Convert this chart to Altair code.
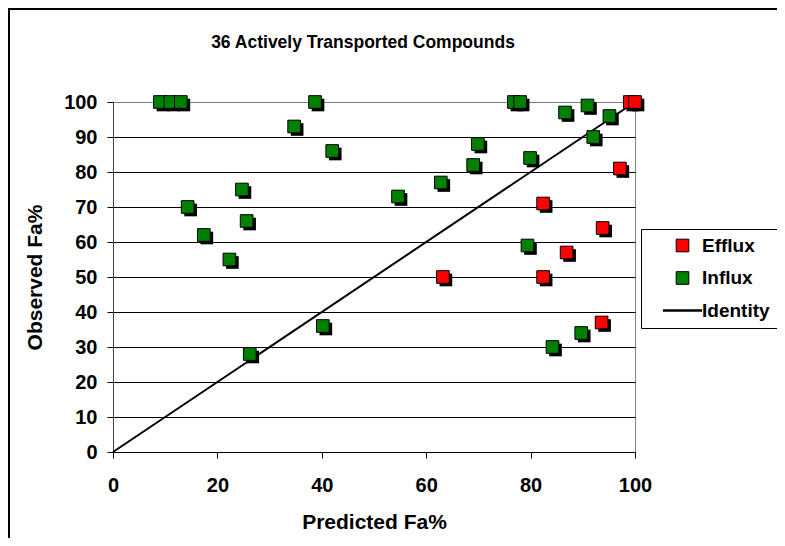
import altair as alt
import pandas as pd

influx_x = [9, 11, 13, 38.7, 34.7, 42, 24.7, 14.3, 25.6, 17.4, 22.3, 76.8, 78, 86.6,
            90.9, 95.1, 92, 69.9, 79.9, 69, 62.8, 54.6, 79.4, 26.2, 40.2, 84.2, 89.7]
influx_y = [100, 100, 100, 100, 93, 86, 75, 70, 66, 62, 55, 100, 100, 97,
            99, 96, 90, 88, 84, 82, 77, 73, 59, 28, 36, 30, 34]
efflux_x = [99, 100, 97.1, 82.4, 93.8, 86.9, 63.2, 82.4, 93.6]
efflux_y = [100, 100, 81, 71, 64, 57, 50, 50, 37]
identity_x = [0, 100]
identity_y = [0, 100]

series = ["Efflux", "Influx", "Identity"]
colors = ["#FF0000", "#008000", "#000000"]
x_ticks = [0, 20, 40, 60, 80, 100]
y_ticks = [0, 10, 20, 30, 40, 50, 60, 70, 80, 90, 100]

FONT = "Liberation Sans"

pts = pd.DataFrame({
    "x": influx_x + efflux_x,
    "y": influx_y + efflux_y,
    "type": ["Influx"] * len(influx_x) + ["Efflux"] * len(efflux_x),
})
ident = pd.DataFrame({"x": identity_x, "y": identity_y})
dummy = pd.DataFrame({"a": [0]})

xscale = alt.Scale(domain=[0, 100], nice=False)
yscale = alt.Scale(domain=[0, 100], nice=False)

xaxis = alt.Axis(values=x_ticks, title="Predicted Fa%", grid=False, labelOverlap=False,
                 labelFlush=False,
                 tickSize=6, tickColor="black", domainColor="black",
                 labelFont=FONT, labelFontSize=20, labelFontWeight="bold", labelColor="black",
                 labelPadding=17, titleFont=FONT, titleFontSize=21, titleFontWeight="bold",
                 titleColor="black", titlePadding=16)
yaxis = alt.Axis(values=y_ticks, title="Observed Fa%", grid=True, labelOverlap=False,
                 labelFlush=False,
                 gridColor={"condition": {"test": "datum.value >= 100", "value": "#808080"}, "value": "black"},
                 tickSize=6, tickColor="black", domainColor="#404040",
                 labelFont=FONT, labelFontSize=20, labelFontWeight="bold", labelColor="black",
                 labelPadding=10, titleFont=FONT, titleFontSize=21, titleFontWeight="bold",
                 titleColor="black", titlePadding=18)

X = alt.X("x:Q", scale=xscale, axis=xaxis)
Y = alt.Y("y:Q", scale=yscale, axis=yaxis)

line = alt.Chart(ident).mark_line(color="black", strokeWidth=2).encode(x=X, y=Y)

shadow = alt.Chart(pts).mark_point(shape="square", filled=True, color="black",
                                   opacity=1, size=160, xOffset=3, yOffset=3).encode(x=X, y=Y)

legend = alt.Legend(title=None, orient="none", legendX=528, legendY=127,
                    symbolSize=160, symbolOffset=25, labelOffset=10)

points = alt.Chart(pts).mark_point(filled=True, opacity=1, stroke="black", size=160).encode(
    x=X, y=Y,
    color=alt.Color("type:N", scale=alt.Scale(domain=series, range=colors), legend=legend),
    shape=alt.Shape("type:N", scale=alt.Scale(domain=series,
                                              range=["square", "square", "M-3.1,0H3.1"]),
                    legend=legend),
    strokeWidth=alt.StrokeWidth("type:N", scale=alt.Scale(type="ordinal", domain=series,
                                                          range=[1, 1, 2.5]), legend=legend),
)

border_left = alt.Chart(dummy).mark_rule(color="black", strokeWidth=2).encode(
    x=alt.value(-104), y=alt.value(-94), y2=alt.value(436))
border_top = alt.Chart(dummy).mark_rule(color="black", strokeWidth=2).encode(
    y=alt.value(-93), x=alt.value(-105), x2=alt.value(664))

chart = alt.layer(line, shadow, points, border_left, border_top).properties(
    width=522, height=350,
    title=alt.TitleParams("36 Actively Transported Compounds", font=FONT, fontSize=17.5,
                          fontWeight="bold", color="black", offset=-44, dx=-11),
    autosize=alt.AutoSizeParams(type="none"),
    padding={"left": 105, "top": 94, "right": 142, "bottom": 86},
    background="white",
).configure_view(stroke="#808080", strokeWidth=1).configure_legend(
    labelFont=FONT, labelFontSize=19, labelFontWeight="bold", labelColor="black",
    strokeColor="black", fillColor="white", padding=7, rowPadding=12.5,
    symbolStrokeColor="black",
)

chart.save("out.html", embed_options={"renderer": "svg", "actions": False})
